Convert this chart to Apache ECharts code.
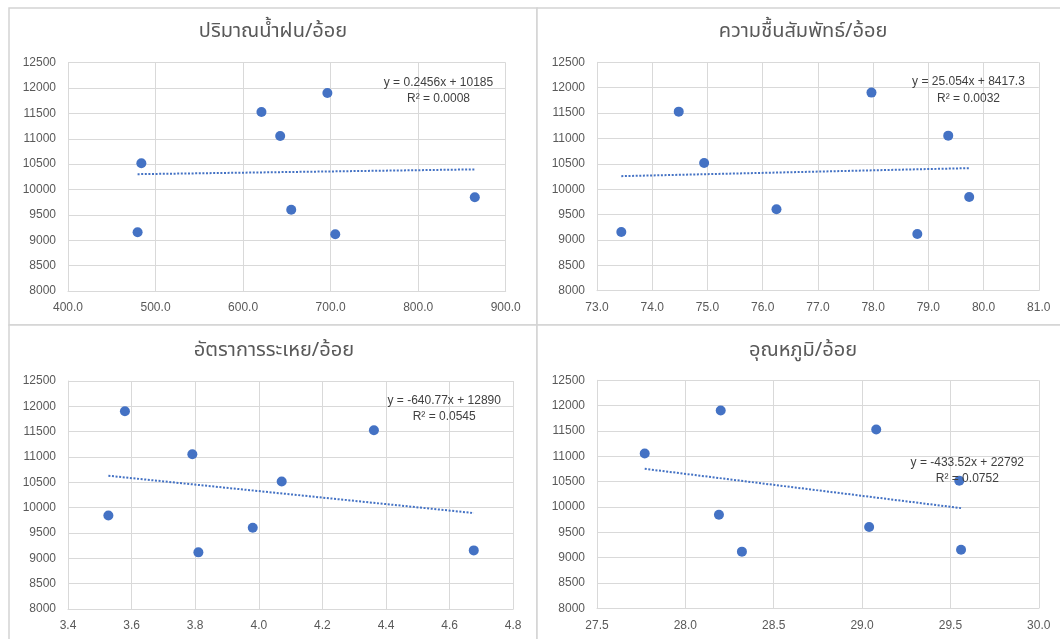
<!DOCTYPE html>
<html>
<head>
<meta charset="utf-8">
<script src="https://cdn.jsdelivr.net/npm/echarts@6/dist/echarts.min.js"></script>
<style>
  html, body { margin: 0; padding: 0; background: #ffffff; }
  #chart { width: 1060px; height: 639px; }
</style>
</head>
<body>
<div id="chart"></div>
<script>
// Sugarcane yield (อ้อย) for eight seasons, paired with four weather factors
const yieldValues = [9157, 10517, 11528, 11055, 9603, 11903, 9118, 9847];
const rainfall    = [479.5, 483.8, 621.0, 642.4, 655.0, 696.3, 705.3, 864.7];
const humidity    = [73.44, 74.94, 74.48, 79.36, 76.25, 77.97, 78.80, 79.74];
const evaporation = [4.676, 4.072, 4.362, 3.791, 3.981, 3.579, 3.810, 3.527];
const temperature = [29.56, 29.55, 29.08, 27.77, 29.04, 28.20, 28.32, 28.19];

const panelTitles = ['ปริมาณน้ำฝน/อ้อย', 'ความชื้นสัมพัทธ์/อ้อย', 'อัตราการระเหย/อ้อย', 'อุณหภูมิ/อ้อย'];

// Linear trendline coefficients [slope, intercept] and R² for each panel
const trendSlopes     = [0.2456, 25.054, -640.77, -433.52];
const trendIntercepts = [10185, 8417.3, 12890, 22792];
const trendR2         = ['0.0008', '0.0032', '0.0545', '0.0752'];
const equationTexts   = ['y = 0.2456x + 10185', 'y = 25.054x + 8417.3', 'y = -640.77x + 12890', 'y = -433.52x + 22792'];

// X axis ranges per panel: [min, max, interval, decimals]
const xRanges = [[400, 900, 100, 1], [73, 81, 1, 1], [3.4, 4.8, 0.2, 1], [27.5, 30, 0.5, 1]];
const yRange = [8000, 12500, 500];

const xSeries = [rainfall, humidity, evaporation, temperature];

const BLUE = '#4472C4';
const TEXT = '#595959';
const GRID = '#D9D9D9';
const NUM_FONT = "'Liberation Sans', Arial, sans-serif";
const THAI_FONT = "'Noto Sans Thai', 'Noto Sans Thai UI', 'Leelawadee UI', 'Noto Sans', 'DejaVu Sans', sans-serif";

// Layout of the four panels
const grids = [
  { left: 68,  top: 62.7, width: 437.7, height: 228.3 },
  { left: 597, top: 62.3, width: 441.8, height: 228.4 },
  { left: 68,  top: 381,  width: 445.2, height: 228 },
  { left: 597, top: 380.3, width: 441.8, height: 228 }
];
const titlePos = [[273, 33], [803, 33], [274, 352], [803, 352]];
const eqPos = [[438.5, 82.3], [968.5, 82], [444.2, 400.3], [967.3, 462.3]];

const chart = echarts.init(document.getElementById('chart'), null, { renderer: 'canvas' });

const xAxes = [], yAxes = [], series = [], graphics = [];

// Panel frames
[[9, 8, 528, 317], [537, 8, 540, 317], [9, 325, 528, 330], [537, 325, 540, 330]].forEach(r => {
  graphics.push({
    type: 'rect', z: -1,
    shape: { x: r[0], y: r[1], width: r[2], height: r[3] },
    style: { fill: '#ffffff', stroke: '#D4D4D4', lineWidth: 1.5 }
  });
});

for (let i = 0; i < 4; i++) {
  const [xmin, xmax, xint, dec] = xRanges[i];
  xAxes.push({
    type: 'value', gridIndex: i, min: xmin, max: xmax, interval: xint,
    axisLine: { show: true, lineStyle: { color: GRID, width: 1 } },
    axisTick: { show: false },
    splitLine: { show: true, lineStyle: { color: GRID, width: 1 } },
    axisLabel: {
      color: TEXT, fontSize: 12, fontFamily: NUM_FONT, margin: 11,
      formatter: v => Number(v).toFixed(dec)
    }
  });
  yAxes.push({
    type: 'value', gridIndex: i, min: yRange[0], max: yRange[1], interval: yRange[2],
    axisLine: { show: true, lineStyle: { color: GRID, width: 1 } },
    axisTick: { show: false },
    splitLine: { show: true, lineStyle: { color: GRID, width: 1 } },
    axisLabel: {
      color: TEXT, fontSize: 12, fontFamily: NUM_FONT, margin: 12,
      formatter: v => String(Math.round(v))
    }
  });

  const xs = xSeries[i];
  series.push({
    type: 'scatter', xAxisIndex: i, yAxisIndex: i,
    symbol: 'circle', symbolSize: 10,
    itemStyle: { color: BLUE, opacity: 1 },
    data: xs.map((x, k) => [x, yieldValues[k]]),
    z: 3
  });

  // Trendline across the data range, from the stated coefficients
  const lo = Math.min(...xs), hi = Math.max(...xs);
  const f = x => trendSlopes[i] * x + trendIntercepts[i];
  series.push({
    type: 'line', xAxisIndex: i, yAxisIndex: i,
    symbol: 'none', silent: true,
    lineStyle: { color: BLUE, width: 2, type: [2, 1.6], opacity: 1 },
    data: [[lo, f(lo)], [hi, f(hi)]],
    z: 2
  });

  graphics.push({
    type: 'text', x: titlePos[i][0], y: titlePos[i][1], z: 10,
    style: {
      text: panelTitles[i], fill: TEXT, font: `20px ${THAI_FONT}`,
      textAlign: 'center', textVerticalAlign: 'middle'
    }
  });
  graphics.push({
    type: 'text', x: eqPos[i][0], y: eqPos[i][1], z: 10,
    style: {
      text: equationTexts[i], fill: '#404040', font: `12px ${NUM_FONT}`,
      textAlign: 'center', textVerticalAlign: 'middle'
    }
  });
  graphics.push({
    type: 'text', x: eqPos[i][0], y: eqPos[i][1] + 16.7, z: 10,
    style: {
      text: 'R² = ' + trendR2[i], fill: '#404040', font: `12px ${NUM_FONT}`,
      textAlign: 'center', textVerticalAlign: 'middle'
    }
  });
}

chart.setOption({
  backgroundColor: '#ffffff',
  animation: false,
  grid: grids.map(g => Object.assign({ containLabel: false }, g)),
  xAxis: xAxes,
  yAxis: yAxes,
  series: series,
  graphic: { elements: graphics }
});
</script>
</body>
</html>
